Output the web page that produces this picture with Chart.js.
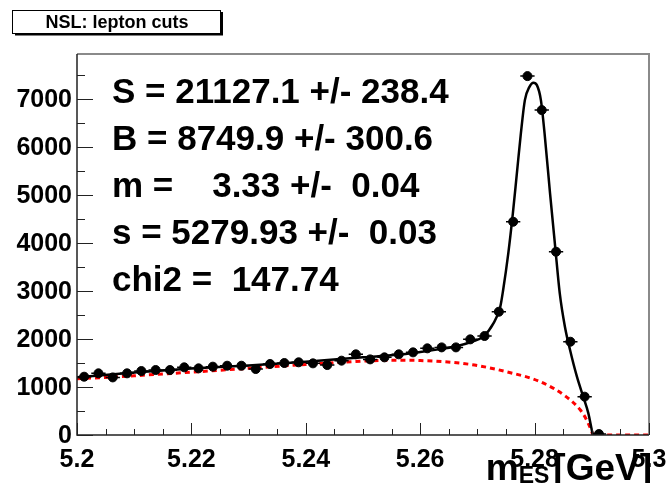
<!DOCTYPE html>
<html>
<head>
<meta charset="utf-8">
<script src="https://cdn.jsdelivr.net/npm/chart.js@4.4.1/dist/chart.umd.min.js"></script>
<style>
  html, body { margin: 0; padding: 0; background: #fff; }
  canvas { display: block; }
</style>
</head>
<body>
<canvas id="mes-fit" width="666" height="483"></canvas>
<script>
// mES histogram, 2.5 MeV bins (empty bins above the endpoint are left out)
const binCenters = [
  5.20125, 5.20375, 5.20625, 5.20875, 5.21125, 5.21375, 5.21625, 5.21875,
  5.22125, 5.22375, 5.22625, 5.22875, 5.23125, 5.23375, 5.23625, 5.23875,
  5.24125, 5.24375, 5.24625, 5.24875, 5.25125, 5.25375, 5.25625, 5.25875,
  5.26125, 5.26375, 5.26625, 5.26875, 5.27125, 5.27375, 5.27625, 5.27875,
  5.28125, 5.28375, 5.28625, 5.28875, 5.29125
];
const binCounts = [
  1215, 1285, 1200, 1285, 1333, 1354, 1354, 1410,
  1389, 1424, 1444, 1444, 1375, 1480, 1500, 1515,
  1493, 1458, 1549, 1681, 1576, 1618, 1681, 1722,
  1806, 1826, 1826, 1993, 2063, 2569, 4444, 7479,
  6771, 3819, 1944, 799, 20
];
const binErrors = [
  35, 36, 35, 36, 37, 37, 37, 38,
  37, 38, 38, 38, 37, 38, 39, 39,
  39, 38, 39, 41, 40, 40, 41, 41,
  42, 43, 43, 45, 45, 51, 67, 86,
  82, 62, 44, 28, 5
];
const binHalfWidth = 0.00125;

// total fit: Crystal Ball signal on top of ARGUS background
const fitMass = [
  5.2000, 5.2100, 5.2200, 5.2300, 5.2400, 5.2500, 5.2560, 5.2600,
  5.2640, 5.2665, 5.2690, 5.2710, 5.2728, 5.2740, 5.2745, 5.2754,
  5.2762, 5.2769, 5.2776, 5.2783, 5.2791, 5.2798, 5.2804, 5.2811,
  5.2818, 5.2827, 5.2836, 5.2844, 5.2853, 5.2862, 5.2874, 5.2885,
  5.2894, 5.2900, 5.2902
];
const fitValues = [
  1205, 1300, 1385, 1450, 1525, 1620, 1670, 1730,
  1800, 1855, 1944, 2049, 2326, 2674, 3021, 3785,
  4618, 5451, 6285, 6979, 7256, 7340, 7292, 6979,
  6215, 5035, 3923, 2951, 2257, 1771, 1215, 799,
  451, 104, 0
];

// ARGUS background component alone
const bkgMass = [
  5.2000, 5.2100, 5.2200, 5.2300, 5.2400, 5.2450, 5.2500, 5.2555,
  5.2600, 5.2640, 5.2695, 5.2750, 5.2810, 5.2855, 5.2880, 5.2891,
  5.2900, 5.2902, 5.3000
];
const bkgValues = [
  1170, 1235, 1310, 1390, 1470, 1508, 1540, 1560,
  1552, 1528, 1458, 1320, 1110, 800, 520, 313,
  69, 0, 0
];

const xTickValues = [5.2, 5.22, 5.24, 5.26, 5.28, 5.3];
const xTickLabels = ["5.2", "5.22", "5.24", "5.26", "5.28", "5.3"];
const yTickValues = [0, 1000, 2000, 3000, 4000, 5000, 6000, 7000];
const yTickLabels = ["0", "1000", "2000", "3000", "4000", "5000", "6000", "7000"];

const fitResults = [
  "S = 21127.1 +/- 238.4",
  "B = 8749.9 +/- 300.6",
  "m =    3.33 +/-  0.04",
  "s = 5279.93 +/-  0.03",
  "chi2 =  147.74"
];
const histTitle = "NSL: lepton cuts";

const toPoints = (xs, ys) => xs.map((x, i) => ({ x, y: ys[i] }));
const BOLD = "'Liberation Sans', Arial, Helvetica, sans-serif";

// error bars: full bin width horizontally, +-sqrt(N)-ish vertically
const errorBars = {
  id: "errorBars",
  afterDatasetsDraw(chart) {
    const { ctx, scales } = chart;
    ctx.save();
    ctx.strokeStyle = "#000";
    ctx.lineWidth = 1.5;
    binCenters.forEach((x, i) => {
      const y = binCounts[i];
      const px = scales.x.getPixelForValue(x);
      const py = scales.y.getPixelForValue(y);
      const x0 = scales.x.getPixelForValue(x - binHalfWidth);
      const x1 = scales.x.getPixelForValue(x + binHalfWidth);
      const y0 = scales.y.getPixelForValue(y - binErrors[i]);
      const y1 = scales.y.getPixelForValue(y + binErrors[i]);
      ctx.beginPath();
      ctx.moveTo(x0, py);
      ctx.lineTo(x1, py);
      ctx.moveTo(px, y0);
      ctx.lineTo(px, y1);
      ctx.stroke();
    });
    ctx.restore();
  }
};

// axes, frame and text boxes drawn the way ROOT does it
const rootFrame = {
  id: "rootFrame",
  afterDraw(chart) {
    const { ctx, chartArea: a, scales } = chart;
    const xs = scales.x, ys = scales.y;
    ctx.save();

    // frame
    ctx.strokeStyle = "#8a8a8a";
    ctx.lineWidth = 2;
    ctx.beginPath();
    ctx.moveTo(a.left, a.top);
    ctx.lineTo(a.right, a.top);
    ctx.lineTo(a.right, a.bottom);
    ctx.stroke();
    ctx.strokeStyle = "#222";
    ctx.lineWidth = 1.5;
    ctx.beginPath();
    ctx.moveTo(a.left, a.top);
    ctx.lineTo(a.left, a.bottom);
    ctx.lineTo(a.right, a.bottom);
    ctx.stroke();

    // y ticks (inward), minor every 500
    ctx.lineWidth = 1;
    ctx.strokeStyle = "#222";
    ctx.beginPath();
    for (let v = 0; v <= ys.max; v += 500) {
      const py = Math.round(ys.getPixelForValue(v)) + 0.5;
      const len = v % 1000 === 0 ? 16 : 8;
      ctx.moveTo(a.left, py);
      ctx.lineTo(a.left + len, py);
    }
    // x ticks (inward), minor every 0.005
    for (let k = 0; k <= 20; k++) {
      const v = xs.min + k * 0.005;
      const px = Math.round(xs.getPixelForValue(v)) + 0.5;
      const len = k % 4 === 0 ? 12 : 6;
      ctx.moveTo(px, a.bottom);
      ctx.lineTo(px, a.bottom - len);
    }
    ctx.stroke();

    // tick labels
    ctx.fillStyle = "#000";
    ctx.font = "bold 25px " + BOLD;
    ctx.textAlign = "right";
    ctx.textBaseline = "middle";
    yTickValues.forEach((v, i) => {
      ctx.fillText(yTickLabels[i], a.left - 5, ys.getPixelForValue(v) + 1);
    });
    ctx.textAlign = "center";
    ctx.textBaseline = "alphabetic";
    xTickValues.forEach((v, i) => {
      ctx.fillText(xTickLabels[i], xs.getPixelForValue(v), 467);
    });

    // axis title m_ES [GeV], right aligned under the axis end
    ctx.textAlign = "left";
    ctx.font = "bold 37px " + BOLD;
    const unit = "[GeV]";
    const wUnit = ctx.measureText(unit).width;
    const wM = ctx.measureText("m").width;
    ctx.font = "bold 23px " + BOLD;
    const wSub = ctx.measureText("ES").width;
    let tx = 652 - wUnit - wSub - wM - 4;
    ctx.font = "bold 37px " + BOLD;
    ctx.fillText("m", tx, 480);
    ctx.font = "bold 23px " + BOLD;
    ctx.fillText("ES", tx + wM, 483);
    ctx.font = "bold 37px " + BOLD;
    ctx.fillText(unit, tx + wM + wSub + 4, 480);

    // fit results
    ctx.font = "bold 35px " + BOLD;
    fitResults.forEach((line, i) => {
      ctx.fillText(line, 112, 103 + i * 47);
    });

    // histogram title box with shadow
    ctx.fillStyle = "#fff";
    ctx.fillRect(12, 10, 208, 23);
    ctx.strokeStyle = "#000";
    ctx.lineWidth = 1;
    ctx.strokeRect(12.5, 10.5, 208, 23);
    ctx.lineWidth = 2;
    ctx.beginPath();
    ctx.moveTo(15, 34.5);
    ctx.lineTo(222, 34.5);
    ctx.lineTo(222, 12);
    ctx.stroke();
    ctx.fillStyle = "#000";
    ctx.font = "bold 18px " + BOLD;
    ctx.textAlign = "center";
    ctx.fillText(histTitle, 117, 28);

    ctx.restore();
  }
};

new Chart(document.getElementById("mes-fit"), {
  type: "scatter",
  data: {
    datasets: [
      {
        label: "data",
        data: toPoints(binCenters, binCounts),
        showLine: false,
        pointRadius: 4.5,
        pointBackgroundColor: "#000",
        pointBorderColor: "#000",
        order: 1
      },
      {
        label: "fit",
        data: toPoints(fitMass, fitValues),
        showLine: true,
        borderColor: "#000",
        borderWidth: 2.5,
        pointRadius: 0,
        cubicInterpolationMode: "monotone",
        order: 2
      },
      {
        label: "background",
        data: toPoints(bkgMass, bkgValues),
        showLine: true,
        borderColor: "#ff0000",
        borderWidth: 3,
        borderDash: [5, 4],
        pointRadius: 0,
        cubicInterpolationMode: "monotone",
        order: 3
      }
    ]
  },
  options: {
    responsive: false,
    animation: false,
    devicePixelRatio: 1,
    layout: { padding: { left: 77, right: 17, top: 54, bottom: 48 } },
    scales: {
      x: { type: "linear", min: 5.2, max: 5.3, display: false },
      y: { type: "linear", min: 0, max: 7940, display: false }
    },
    plugins: {
      legend: { display: false },
      tooltip: { enabled: false }
    }
  },
  plugins: [errorBars, rootFrame]
});
</script>
</body>
</html>
